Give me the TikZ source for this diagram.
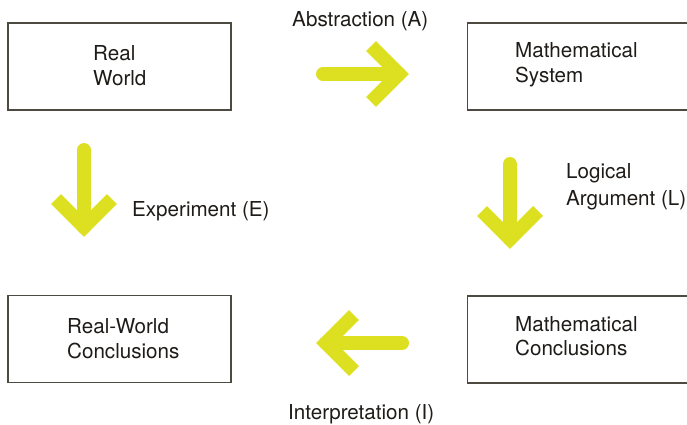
\documentclass[tikz,border=0pt]{standalone}
\usepackage{fontspec}
\setmainfont{TeX Gyre Heros}
\usetikzlibrary{calc}
\definecolor{arrowyellow}{RGB}{221,224,33}
\definecolor{boxline}{RGB}{77,74,66}
\definecolor{txt}{RGB}{30,27,24}
\begin{document}
\begin{tikzpicture}[x=1pt,y=-1pt,
  box/.style={draw=boxline,line width=1.3pt,rectangle,inner sep=0pt,minimum width=223pt,minimum height=87pt},
  lbl/.style={anchor=base west,inner sep=0pt,text=txt,font=\fontsize{20.6}{25}\selectfont},
  shaft/.style={draw=arrowyellow,line width=14pt,line cap=round},
  chev/.style={draw=arrowyellow,line width=14pt,line cap=butt,line join=miter,miter limit=4}]
\useasboundingbox (0,0) rectangle (687,424);
\clip (0,0) rectangle (687,424);
% boxes
\node[box] (rw) at (119.5,66.5) {};
\node[box] (ms) at (579,66.5) {};
\node[box] (rc) at (119.5,339) {};
\node[box] (mc) at (579,339.5) {};
% box texts
\node[lbl] (rw1) at (93,60) {Real};
\node[lbl] (rw2) at (93,85) {World};
\node[lbl] (ms1) at (515,57) {Mathematical};
\node[lbl] (ms2) at (515,82) {System};
\node[lbl] (rc1) at (67,333) {Real-World};
\node[lbl] (rc2) at (67,358) {Conclusions};
\node[lbl] (mc1) at (515,331) {Mathematical};
\node[lbl] (mc2) at (515,355) {Conclusions};
% arrow labels
\node[lbl] (la) at (292,26) {Abstraction (A)};
\node[lbl] (le) at (132,216) {Experiment (E)};
\node[lbl] (ll1) at (566,178) {Logical};
\node[lbl] (ll2) at (566,205) {Argument (L)};
\node[lbl] (li) at (288,419) {Interpretation (I)};
% arrow coordinates
\coordinate (aS) at (323,74);  \coordinate (aT) at (399,74);
\coordinate (eS) at (84,150);  \coordinate (eT) at (84,227);
\coordinate (lS) at (510,164); \coordinate (lT) at (510,239);
\coordinate (iS) at (402,343); \coordinate (iT) at (326,343);
% Abstraction (right)
\draw[shaft] (aS) -- (aT);
\draw[chev] ($(aT)+(-28,-28)$) -- (aT) -- ($(aT)+(-28,28)$);
% Experiment (down)
\draw[shaft] (eS) -- (eT);
\draw[chev] ($(eT)+(-28,-28)$) -- (eT) -- ($(eT)+(28,-28)$);
% Logical Argument (down)
\draw[shaft] (lS) -- (lT);
\draw[chev] ($(lT)+(-28,-28)$) -- (lT) -- ($(lT)+(28,-28)$);
% Interpretation (left)
\draw[shaft] (iS) -- (iT);
\draw[chev] ($(iT)+(28,-28)$) -- (iT) -- ($(iT)+(28,28)$);
\end{tikzpicture}
\end{document}
